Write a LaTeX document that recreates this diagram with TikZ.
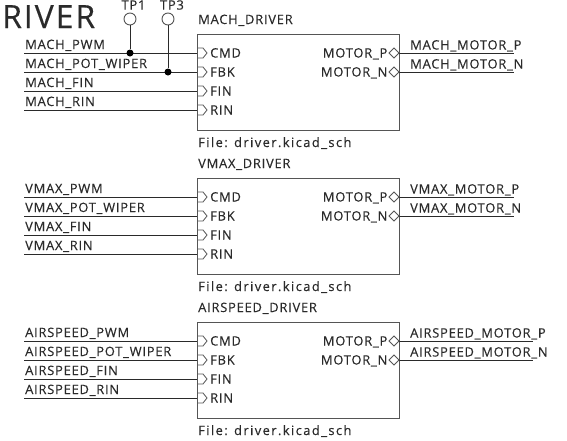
\documentclass[tikz,border=0pt]{standalone}
\usepackage{fontspec}
\setmainfont{Open Sans}[LetterSpace=6.0,FakeBold=0.25]
\definecolor{ink}{HTML}{2A2A2A}
\definecolor{boxc}{HTML}{555555}
\tikzset{
 lbl/.style={font=\fontsize{12.9}{13}\selectfont,text=ink,inner sep=0pt,anchor=base west},
 lblr/.style={lbl,anchor=base east},
 wire/.style={draw=ink,line width=1pt},
 sheetbox/.style={draw=boxc,line width=1.1pt,fill=white},
 pinin/.style={draw=boxc,line width=0.8pt},
 pinbi/.style={draw=boxc,line width=0.8pt,fill=white},
 junc/.style={circle,fill=black,inner sep=0pt,minimum size=7pt},
 tp/.style={circle,draw=boxc,line width=0.9pt,fill=white,inner sep=0pt,minimum size=12pt},
}
\newcommand{\sheet}[5]{% prefix, top y, name, net prefix, wire right end
 \node[lbl] at (198,#2-10) {#3};
 \node[sheetbox,inner sep=0pt,anchor=north west] (#1box) at (197,#2) {\tikz\useasboundingbox (0,0) rectangle (202pt,96pt);};
 \node[lbl] at (198,#2+113) {\addfontfeature{LetterSpace=11}File: driver.kicad\_sch};
 \foreach \pn/\pt/\off/\wl in {cmd/CMD/19/PWM,fbk/FBK/38/POT\_WIPER,fin/FIN/57/FIN,rin/RIN/76/RIN}{
  \coordinate (#1\pn s) at (24,#2+\off);
  \coordinate (#1\pn e) at (197,#2+\off);
  \draw[wire] (#1\pn s) -- (#1\pn e);
  \node[lbl] at (25,#2+\off-4) {#4\_\wl};
  \draw[pinin] (197,#2+\off-5) -- (203,#2+\off-5) -- (207,#2+\off) -- (203,#2+\off+5) -- (197,#2+\off+5);
  \node[lbl] at (210,#2+\off+4.5) {\pt};
 }
 \foreach \pn/\pt/\off in {p/P/19,n/N/38}{
  \coordinate (#1\pn s) at (399,#2+\off);
  \coordinate (#1\pn e) at (#5,#2+\off);
  \draw[wire] (#1\pn s) -- (#1\pn e);
  \node[lbl] at (410,#2+\off-3.5) {#4\_MOTOR\_\pt};
  \draw[pinbi] (399,#2+\off) -- (394,#2+\off-5) -- (389,#2+\off) -- (394,#2+\off+5) -- cycle;
  \node[lblr] at (387.5,#2+\off+4.5) {MOTOR\_\pt};
 }
}
\begin{document}
\begin{tikzpicture}[x=1pt,y=-1pt]
\useasboundingbox (0,0) rectangle (567,440);
\clip (0,0) rectangle (567,440);
\node[lbl,font=\fontsize{32}{32}\selectfont] (title) at (2,28) {RIVER};
\sheet{m}{34}{MACH\_DRIVER}{MACH}{514}
\sheet{v}{178}{VMAX\_DRIVER}{VMAX}{514}
\sheet{a}{322}{AIRSPEED\_DRIVER}{AIRSPEED}{533}
\node[tp] (tp1) at (130,19) {};
\node[tp] (tp3) at (168,19) {};
\node[lbl,anchor=base] (tp1l) at (133.5,9.6) {TP1};
\node[lbl,anchor=base] (tp3l) at (172,9.6) {TP3};
\node[junc] (j1) at (130,53) {};
\node[junc] (j3) at (168,72) {};
\draw[wire] (tp1) -- (j1);
\draw[wire] (tp3) -- (j3);
\end{tikzpicture}
\end{document}
